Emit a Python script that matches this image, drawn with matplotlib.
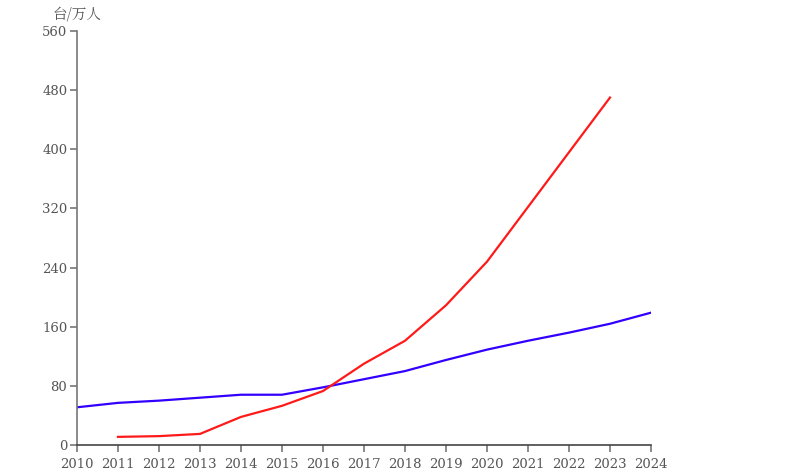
import matplotlib
matplotlib.use("Agg")
import matplotlib.pyplot as plt

years = [2010, 2011, 2012, 2013, 2014, 2015, 2016, 2017, 2018, 2019, 2020, 2021, 2022, 2023, 2024]
red_years = [2011, 2012, 2013, 2014, 2015, 2016, 2017, 2018, 2019, 2020, 2021, 2022, 2023]
red_values = [11, 12, 15, 38, 53, 73, 110, 141, 189, 248, 322, 396, 470]
blue_years = [2010, 2011, 2012, 2013, 2014, 2015, 2016, 2017, 2018, 2019, 2020, 2021, 2022, 2023, 2024]
blue_values = [51, 57, 60, 64, 68, 68, 78, 89, 100, 115, 129, 141, 152, 164, 179]
y_ticks = [0, 80, 160, 240, 320, 400, 480, 560]
y_unit = "台/万人"

fig = plt.figure(figsize=(8.01, 4.74), dpi=100)
ax = fig.add_axes([77/801, 29/474, (651-77)/801, (445-31)/474])
ax.plot(blue_years, blue_values, color="#3300ff", lw=1.6)
ax.plot(red_years, red_values, color="#ff1a1a", lw=1.6)
ax.set_xlim(2010, 2024)
ax.set_ylim(0, 560)
ax.set_xticks(years)
ax.set_yticks(y_ticks)
for s in ["top", "right"]:
    ax.spines[s].set_visible(False)
ax.spines["left"].set_color("#777777")
ax.spines["bottom"].set_color("#444444")
for s in ["left", "bottom"]:
    ax.spines[s].set_linewidth(1.2)
ax.tick_params(axis="both", direction="out", length=5, width=1.2, color="#777777",
               labelcolor="#555555", labelsize=9.5, pad=2)
for lab in ax.get_xticklabels() + ax.get_yticklabels():
    lab.set_family("DejaVu Serif")
ax.tick_params(axis="x", pad=4)
fig.text(77/801, 1 - 14/474, y_unit, ha="center", va="center", fontsize=10.5,
         color="#555555", family=["Noto Serif CJK SC", "Noto Sans CJK SC", "DejaVu Sans"],
         transform=fig.transFigure)
fig.savefig("out.png", dpi=100)
